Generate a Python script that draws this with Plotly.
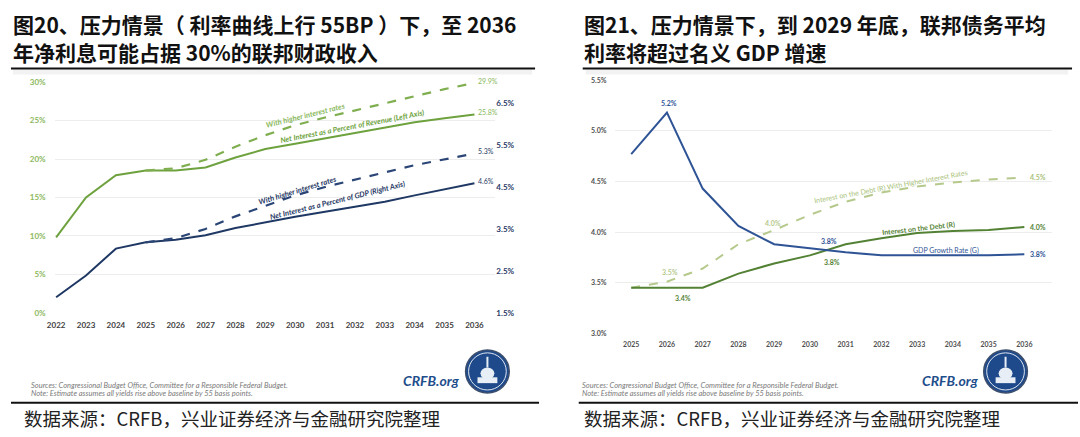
import plotly.graph_objects as go

W, H = 1080, 437
def px(x): return x / W
def py(y): return 1 - y / H

# ---------------- data: left panel ----------------
years_l = list(range(2022, 2037))
rev_base = [9.8, 15.0, 17.9, 18.5, 18.5, 18.9, 20.2, 21.3, 22.0, 22.7, 23.4, 24.1, 24.8, 25.3, 25.8]
years_hi = list(range(2025, 2037))
rev_high = [18.5, 18.8, 19.9, 21.6, 23.1, 24.4, 25.4, 26.3, 27.2, 28.2, 29.1, 29.9]
gdp_base = [1.87, 2.39, 3.03, 3.18, 3.24, 3.35, 3.52, 3.66, 3.79, 3.91, 4.03, 4.15, 4.30, 4.45, 4.59]
gdp_high = [3.18, 3.28, 3.50, 3.80, 4.05, 4.30, 4.50, 4.68, 4.85, 5.02, 5.16, 5.30]
left_ticks = [0, 5, 10, 15, 20, 25, 30]
right_ticks = [1.5, 2.5, 3.5, 4.5, 5.5, 6.5]

# ---------------- data: right panel ----------------
years_r = list(range(2025, 2037))
gdp_growth = [4.77, 5.18, 4.43, 4.06, 3.88, 3.84, 3.80, 3.77, 3.77, 3.77, 3.77, 3.78]
r_base = [3.45, 3.45, 3.45, 3.59, 3.69, 3.77, 3.88, 3.94, 3.99, 4.01, 4.02, 4.05]
r_high = [3.45, 3.51, 3.64, 3.88, 4.02, 4.17, 4.30, 4.39, 4.45, 4.49, 4.52, 4.54]
r_ticks = [3.0, 3.5, 4.0, 4.5, 5.0, 5.5]

G1 = "#6ea23e"; G1D = "#7fae4f"; B1 = "#1f3864"; B1D = "#2b4676"
B2 = "#2f5496"; G2 = "#548235"; G2L = "#b6c98c"
FONT = "Lato, 'Noto Sans', sans-serif"
CJK = "'Noto Sans CJK SC', sans-serif"

fig = go.Figure()
fig.add_trace(go.Scatter(x=years_l, y=rev_base, mode="lines", line=dict(color=G1, width=2), xaxis="x", yaxis="y"))
fig.add_trace(go.Scatter(x=years_hi, y=rev_high, mode="lines", line=dict(color=G1D, width=2.2, dash="dash"), xaxis="x", yaxis="y"))
fig.add_trace(go.Scatter(x=years_l, y=gdp_base, mode="lines", line=dict(color=B1, width=2), xaxis="x", yaxis="y2"))
fig.add_trace(go.Scatter(x=years_hi, y=gdp_high, mode="lines", line=dict(color=B1D, width=2.2, dash="dash"), xaxis="x", yaxis="y2"))

fig.add_trace(go.Scatter(x=years_r, y=r_high, mode="lines", line=dict(color=G2L, width=2, dash="dash"), xaxis="x2", yaxis="y3"))
fig.add_trace(go.Scatter(x=years_r, y=r_base, mode="lines", line=dict(color=G2, width=2), xaxis="x2", yaxis="y3"))
fig.add_trace(go.Scatter(x=years_r, y=gdp_growth, mode="lines", line=dict(color=B2, width=2), xaxis="x2", yaxis="y3"))

fig.update_layout(
    width=W, height=H, margin=dict(l=0, r=0, t=0, b=0),
    paper_bgcolor="white", plot_bgcolor="white", showlegend=False,
    font=dict(family=FONT),
    xaxis=dict(domain=[px(47), px(491)], range=[2021.95, 2036.7], tickvals=years_l,
               tickfont=dict(size=8, color="#404040", family=FONT, weight="bold"),
               ticklabelstandoff=6,
               showgrid=False, zeroline=False, showline=False, ticks="", anchor="y"),
    yaxis=dict(domain=[py(315), py(79)], range=[0, 30], tickvals=left_ticks,
               ticktext=[f"{v}%" for v in left_ticks],
               tickfont=dict(size=8, color="#8ab85c", family=FONT, weight="bold"),
               ticklabelstandoff=8,
               showgrid=True, gridcolor="#ededed", gridwidth=1, zeroline=False, showline=False,
               ticks="", anchor="x"),
    yaxis2=dict(overlaying="y", side="right", range=[1.5, 7.0], tickvals=right_ticks,
                ticktext=[f"{v}%" for v in right_ticks],
                tickfont=dict(size=8, color="#2a3b66", family=FONT, weight="bold"),
                showgrid=False, zeroline=False, showline=False, ticks="", anchor="x"),
    xaxis2=dict(domain=[px(612), px(1052)], range=[2024.56, 2036.78], tickvals=years_r,
                tickfont=dict(size=7, color="#505050", family=FONT, weight="bold"),
                ticklabelstandoff=6,
                showgrid=False, zeroline=False, showline=False, ticks="", anchor="y3"),
    yaxis3=dict(domain=[py(336), py(77)], range=[3.0, 5.5], tickvals=r_ticks,
                ticktext=[f"{v:.1f}%" for v in r_ticks],
                tickfont=dict(size=7, color="#505050", family=FONT, weight="bold"),
                ticklabelstandoff=8,
                showgrid=True, gridcolor="#ededed", gridwidth=1, zeroline=False, showline=False,
                ticks="", anchor="x2"),
)

ann = []
def A(text, x, y, size=7, color="#333", angle=0, family=FONT, xanchor="center", yanchor="middle", **kw):
    ann.append(dict(text=text, x=px(x), y=py(y), xref="paper", yref="paper", showarrow=False,
                    font=dict(size=size, color=color, family=family), textangle=angle,
                    xanchor=xanchor, yanchor=yanchor, **kw))

# Titles
A("<b>图20、压力情景（ 利率曲线上行 55BP ）下，至 2036</b>", 3, 19, size=21, color="#111", family=CJK, xanchor="left")
A("<b>年净利息可能占据 30%的联邦财政收入</b>", 3, 48, size=21, color="#111", family=CJK, xanchor="left")
A("<b>图21、压力情景下，到 2029 年底，联邦债务平均</b>", 578, 19, size=21, color="#111", family=CJK, xanchor="left")
A("<b>利率将超过名义 GDP 增速</b>", 578, 48, size=21, color="#111", family=CJK, xanchor="left")
# Captions
A("数据来源：CRFB，兴业证券经济与金融研究院整理", 14, 423, size=18.5, color="#222", family=CJK, xanchor="left")
A("数据来源：CRFB，兴业证券经济与金融研究院整理", 578, 423, size=18.5, color="#222", family=CJK, xanchor="left")

# Left chart line labels
A("<b><i>With higher interest rates</i></b>", 300, 113, size=7.5, color="#8ab85c", angle=-14)
A("<b><i>Net Interest as a Percent of Revenue (Left Axis)</i></b>", 347, 124, size=7.5, color="#6ea23e", angle=-11)
A("<b><i>With higher interest rates</i></b>", 292, 190, size=7.5, color=B1, angle=-17)
A("<b><i>Net Interest as a Percent of GDP (Right Axis)</i></b>", 332, 200, size=7.5, color=B1, angle=-14)
# end labels left (data-attached)
for yv, col, yr in [(rev_high[-1], "#8ab85c", "y"), (rev_base[-1], "#8ab85c", "y"),
                    (gdp_high[-1], "#2a3b66", "y2"), (gdp_base[-1], "#2a3b66", "y2")]:
    ann.append(dict(text=f"{yv:.1f}%", x=years_l[-1], y=yv, xref="x", yref=yr, showarrow=False,
                    xanchor="left", yanchor="bottom", xshift=2, yshift=-4,
                    font=dict(size=7, color=col, family=FONT)))

# Right chart labels
A("<b>5.2%</b>", 666, 100, size=7, color=B2)
A("<b>3.5%</b>", 667, 273, size=7, color=G2L)
A("<b>3.4%</b>", 680, 300, size=7, color=G2)
A("<b>4.0%</b>", 771, 223, size=7, color=G2L)
A("<b>3.8%</b>", 827, 242, size=7, color=B2)
A("<b>3.8%</b>", 830, 263, size=7, color=G2)
A("Interest on the Debt (R) With Higher Interest Rates", 890, 186, size=7, color="#a9bf7a", angle=-10.5)
A("<b>Interest on the Debt (R)</b>", 917, 229, size=7, color=G2, angle=-6.5)
A("GDP Growth Rate (G)", 945, 251, size=7, color=B2)
for yv, col in [(r_high[-1], "#a9bf7a"), (r_base[-1], G2), (gdp_growth[-1], B2)]:
    ann.append(dict(text=f"<b>{yv:.1f}%</b>", x=years_r[-1], y=yv, xref="x2", yref="y3", showarrow=False,
                    xanchor="left", xshift=4, font=dict(size=7, color=col, family=FONT)))

# Sources + logo text
for x0 in (21, 576):
    A("<i>Sources: Congressional Budget Office, Committee for a Responsible Federal Budget.</i>", x0, 389, size=7.5, color="#7a7a7a", xanchor="left")
    A("<i>Note: Estimate assumes all yields rise above baseline by 55 basis points.</i>", x0, 398, size=7.5, color="#7a7a7a", xanchor="left")
A("<b><i>CRFB.org</i></b>", 457, 384, size=14, color="#1f4e8c", xanchor="right")
A("<b><i>CRFB.org</i></b>", 980, 384, size=14, color="#1f4e8c", xanchor="right")
fig.update_layout(annotations=ann)

shapes = []
def line(x0, y0, x1, y1, color="#111", width=2):
    shapes.append(dict(type="line", xref="paper", yref="paper", x0=px(x0), y0=py(y0), x1=px(x1), y1=py(y1),
                       line=dict(color=color, width=width)))
line(3, 65, 531, 65); line(579, 65, 1072, 65)
line(3, 407, 535, 407); line(575, 407, 1078, 407)
# faint shadow under the top rule
for (a, b) in ((5, 528), (582, 1068)):
    shapes.append(dict(type="rect", xref="paper", yref="paper", x0=px(a), x1=px(b), y0=py(71), y1=py(66),
                       fillcolor="#f2f2f2", line=dict(width=0), layer="below"))
# logos
for cx in (483, 1005):
    cy, r = 375, 22
    shapes.append(dict(type="circle", xref="paper", yref="paper", x0=px(cx - r), x1=px(cx + r),
                       y0=py(cy + r), y1=py(cy - r), fillcolor="#1e4a8b", line=dict(color="#3d4f6e", width=1.5)))
    r2 = 19
    shapes.append(dict(type="circle", xref="paper", yref="paper", x0=px(cx - r2), x1=px(cx + r2),
                       y0=py(cy + r2), y1=py(cy - r2), fillcolor="rgba(0,0,0,0)", line=dict(color="#dfe6f0", width=1)))
    # simple capitol dome
    shapes.append(dict(type="rect", xref="paper", yref="paper", x0=px(cx - 10), x1=px(cx + 10),
                       y0=py(cy + 12), y1=py(cy + 6), fillcolor="#e8eef6", line=dict(width=0)))
    shapes.append(dict(type="circle", xref="paper", yref="paper", x0=px(cx - 7), x1=px(cx + 7),
                       y0=py(cy + 8), y1=py(cy - 4), fillcolor="#e8eef6", line=dict(width=0)))
    shapes.append(dict(type="line", xref="paper", yref="paper", x0=px(cx), x1=px(cx),
                       y0=py(cy - 4), y1=py(cy - 15), line=dict(color="#e8eef6", width=2)))
fig.update_layout(shapes=shapes)

fig.write_html("out.html")
